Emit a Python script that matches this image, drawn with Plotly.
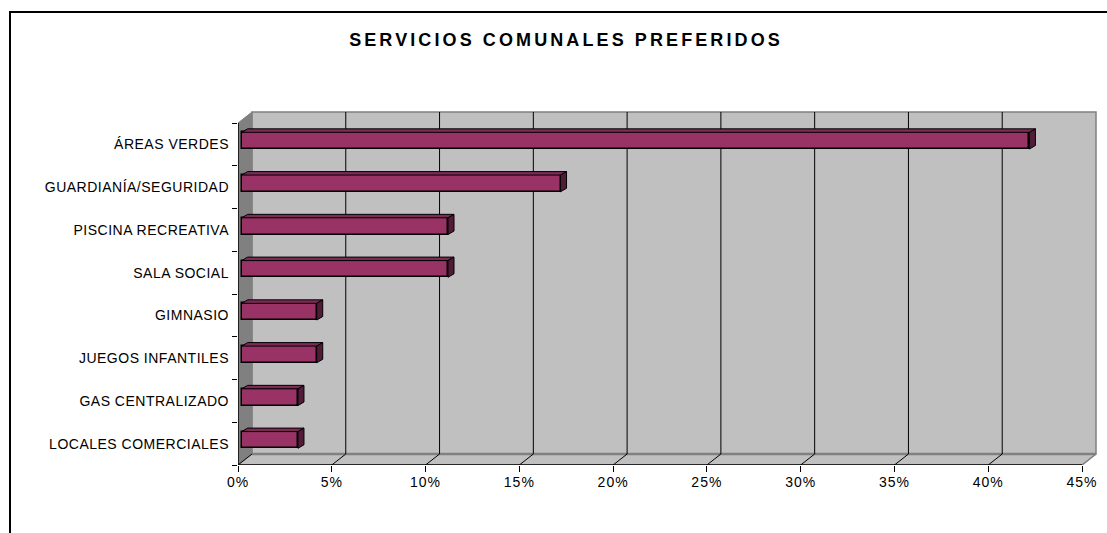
import plotly.graph_objects as go

# ---------------- data ----------------
categories = [
    "LOCALES COMERCIALES",
    "GAS CENTRALIZADO",
    "JUEGOS INFANTILES",
    "GIMNASIO",
    "SALA SOCIAL",
    "PISCINA RECREATIVA",
    "GUARDIANÍA/SEGURIDAD",
    "ÁREAS VERDES",
]
values = [0.03, 0.03, 0.04, 0.04, 0.11, 0.11, 0.17, 0.42]
x_tick_values = [0.0, 0.05, 0.10, 0.15, 0.20, 0.25, 0.30, 0.35, 0.40, 0.45]
x_tick_labels = ["0%", "5%", "10%", "15%", "20%", "25%", "30%", "35%", "40%", "45%"]
title_text = "SERVICIOS COMUNALES PREFERIDOS"

# ---------------- geometry (pixels) ----------------
W, H = 1107, 533
L, R_, T, B = 238, 1098, 110, 465          # plot area in px
front_right_px = 1082                      # px of the 45% front tick
front_top_px = 123
depth_px = (14, 11)
xmax_front = x_tick_values[-1]
n = len(categories)

px_per_x = (front_right_px - L) / xmax_front
px_per_cat = (B - front_top_px) / n
x_range = [0, (R_ - L) / px_per_x]
y_range = [-0.5, -0.5 + (B - T) / px_per_cat]
DX = depth_px[0] / px_per_x
DY = depth_px[1] / px_per_cat

# bar 3D placement
bar_dx = 3.7 / px_per_x
bar_dy = 3.7 / px_per_cat
bar_w = 16.7 / px_per_cat
face_dx = 6 / px_per_x
face_dy = 3.5 / px_per_cat


def pxx(p):
    return (p - L) / (R_ - L)


def pxy(p):
    return (B - p) / (B - T)


FRONT = "#993366"
TOP = "#7d2a55"
SIDE = "#521b38"
WALL = "#c0c0c0"
SIDEWALL = "#808080"
FONT = "Liberation Sans, Arial, sans-serif"

fig = go.Figure()

ypos = [i + bar_dy for i in range(n)]
fig.add_trace(go.Bar(
    y=ypos, x=values, base=bar_dx, orientation="h", width=bar_w,
    marker=dict(color=FRONT, line=dict(color="black", width=1.5)),
    showlegend=False, hoverinfo="skip",
))

# top & side faces of each bar
for yc, v in zip(ypos, values):
    yt = yc + bar_w / 2
    yb = yc - bar_w / 2
    x0 = bar_dx
    x1 = bar_dx + v
    fig.add_trace(go.Scatter(
        x=[x0, x1, x1 + face_dx, x0 + face_dx, x0],
        y=[yt, yt, yt + face_dy, yt + face_dy, yt],
        mode="lines", fill="toself", fillcolor=TOP,
        line=dict(color="black", width=1), showlegend=False, hoverinfo="skip",
    ))
    fig.add_trace(go.Scatter(
        x=[x1, x1 + face_dx, x1 + face_dx, x1, x1],
        y=[yb, yb + face_dy, yt + face_dy, yt, yb],
        mode="lines", fill="toself", fillcolor=SIDE,
        line=dict(color="black", width=1), showlegend=False, hoverinfo="skip",
    ))

shapes = []
y_lo, y_hi = -0.5, n - 0.5
# back wall
shapes.append(dict(type="rect", xref="x", yref="y", x0=DX, x1=xmax_front + DX,
                   y0=y_lo + DY, y1=y_hi + DY, fillcolor=WALL,
                   line=dict(color="#808080", width=1.5), layer="below"))
# left wall
shapes.append(dict(type="path", xref="x", yref="y",
                   path=f"M 0,{y_lo} L 0,{y_hi} L {DX},{y_hi + DY} L {DX},{y_lo + DY} Z",
                   fillcolor=SIDEWALL, line=dict(color="#808080", width=1), layer="below"))
# floor
shapes.append(dict(type="path", xref="x", yref="y",
                   path=f"M 0,{y_lo} L {xmax_front},{y_lo} L {xmax_front + DX},{y_lo + DY} L {DX},{y_lo + DY} Z",
                   fillcolor=WALL, line=dict(color="#808080", width=1), layer="below"))
# floor back edge (thicker grey)
shapes.append(dict(type="line", xref="x", yref="y", x0=DX, x1=xmax_front + DX,
                   y0=y_lo + DY, y1=y_lo + DY, line=dict(color="#808080", width=2.5),
                   layer="below"))
# gridlines on back wall + floor diagonals
for xv in x_tick_values[1:-1]:
    shapes.append(dict(type="line", xref="x", yref="y", x0=xv + DX, x1=xv + DX,
                       y0=y_lo + DY, y1=y_hi + DY, line=dict(color="black", width=1),
                       layer="below"))
for xv in x_tick_values[:-1]:
    shapes.append(dict(type="line", xref="x", yref="y", x0=xv, x1=xv + DX,
                       y0=y_lo, y1=y_lo + DY, line=dict(color="black", width=1),
                       layer="below"))
shapes.append(dict(type="line", xref="x", yref="y", x0=xmax_front, x1=xmax_front + DX,
                   y0=y_lo, y1=y_lo + DY, line=dict(color="#808080", width=1.5),
                   layer="below"))
# front axis lines
shapes.append(dict(type="line", xref="x", yref="y", x0=0, x1=xmax_front,
                   y0=y_lo, y1=y_lo, line=dict(color="black", width=1.5)))
shapes.append(dict(type="line", xref="x", yref="y", x0=0, x1=0,
                   y0=y_lo, y1=y_hi, line=dict(color="black", width=1.5)))
# outer chart border
shapes.append(dict(type="rect", xref="paper", yref="paper",
                   x0=pxx(10), x1=pxx(1120), y0=pxy(545), y1=pxy(12),
                   line=dict(color="black", width=2), fillcolor="rgba(0,0,0,0)"))

fig.update_layout(
    width=W, height=H,
    margin=dict(l=L, r=W - R_, t=T, b=H - B, pad=0),
    paper_bgcolor="white", plot_bgcolor="rgba(0,0,0,0)",
    shapes=shapes,
    font=dict(family=FONT, color="black", size=14),
    title=dict(
        text=f'<span style="letter-spacing:3.1px"><b>{title_text}</b></span>',
        xref="container", yref="container", x=566 / W, y=1 - 40 / H,
        xanchor="center", yanchor="middle",
        font=dict(size=18, family=FONT, color="black"),
    ),
    xaxis=dict(
        range=x_range, showgrid=False, zeroline=False, showline=False,
        tickmode="array", tickvals=x_tick_values,
        ticktext=[f'<span style="letter-spacing:1px">{t}</span>' for t in x_tick_labels],
        ticks="outside", ticklen=6, tickcolor="black", tickwidth=1,
        ticklabelstandoff=-2,
        tickfont=dict(size=14), fixedrange=True,
    ),
    yaxis=dict(
        range=y_range, showgrid=False, zeroline=False, showline=False,
        tickmode="array", tickvals=list(range(n)),
        ticktext=[f'<span style="letter-spacing:0.5px">{c}</span>' for c in categories],
        ticks="", ticklabelstandoff=8, tickfont=dict(size=14),
        minor=dict(tickmode="array", tickvals=[i - 0.5 for i in range(n + 1)],
                   ticks="outside", ticklen=5, tickcolor="black", tickwidth=1,
                   showgrid=False),
        fixedrange=True,
    ),
    bargap=0,
)

fig.write_html("out.html")
